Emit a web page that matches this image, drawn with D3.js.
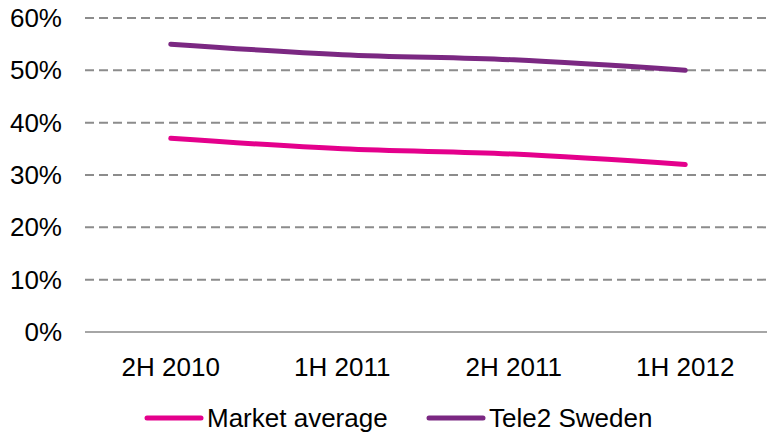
<!DOCTYPE html>
<html>
<head>
<meta charset="utf-8">
<script src="https://d3js.org/d3.v7.min.js"></script>
<style>
  body { margin: 0; background: #fff; }
  svg text { font-family: "Liberation Sans", Arial, sans-serif; fill: #000; }
  .grid line { stroke: #8c8c8c; stroke-width: 2; stroke-dasharray: 9,5; }
  .baseline { stroke: #a6a6a6; stroke-width: 2; }
</style>
</head>
<body>
<div id="chart"></div>
<script>
// periods on the x axis
var categories = ["2H 2010", "1H 2011", "2H 2011", "1H 2012"];

// share values, percent
var marketAverage = [37, 35, 34, 32];
var tele2Sweden = [55, 53, 52, 50];

var yTicks = [0, 10, 20, 30, 40, 50, 60];

var seriesNames = ["Market average", "Tele2 Sweden"];
var seriesColors = ["#e4008c", "#7b2882"];

/////////////////////////////////////////////////////////////////////

var width = 767, height = 433;
var svg = d3.select("#chart").append("svg")
    .attr("width", width)
    .attr("height", height);

var x = d3.scaleBand()
    .domain(categories)
    .range([85, 771]);

var y = d3.scaleLinear()
    .domain([0, 60])
    .range([332, 18]);

// dashed gridlines (not at zero)
var grid = svg.append("g").attr("class", "grid");
grid.selectAll("line")
    .data(yTicks.filter(function(d) { return d > 0; }))
    .enter().append("line")
    .attr("x1", 85)
    .attr("x2", width)
    .attr("y1", function(d) { return y(d); })
    .attr("y2", function(d) { return y(d); });

svg.append("line")
    .attr("class", "baseline")
    .attr("x1", 85)
    .attr("x2", width)
    .attr("y1", y(0))
    .attr("y2", y(0));

// y labels
svg.append("g").selectAll("text")
    .data(yTicks)
    .enter().append("text")
    .attr("x", 62)
    .attr("y", function(d) { return y(d) + 9; })
    .attr("text-anchor", "end")
    .style("font-size", "26px")
    .text(function(d) { return d + "%"; });

// x labels
svg.append("g").selectAll("text")
    .data(categories)
    .enter().append("text")
    .attr("x", function(d) { return x(d) + x.bandwidth() / 2; })
    .attr("y", 376)
    .attr("text-anchor", "middle")
    .style("font-size", "26px")
    .text(function(d) { return d; });

// lines (smoothed, like the source)
var line = d3.line()
    .x(function(d, i) { return x(categories[i]) + x.bandwidth() / 2; })
    .y(function(d) { return y(d); })
    .curve(d3.curveCatmullRom.alpha(0.5));

var seriesData = [marketAverage, tele2Sweden];

svg.append("g").selectAll("path")
    .data(seriesData)
    .enter().append("path")
    .attr("d", line)
    .attr("fill", "none")
    .attr("stroke", function(d, i) { return seriesColors[i]; })
    .attr("stroke-width", 5)
    .attr("stroke-linecap", "round")
    .attr("stroke-linejoin", "round");

// legend
var legendX = [147, 429];
var legend = svg.append("g").selectAll("g")
    .data(seriesNames)
    .enter().append("g")
    .attr("transform", function(d, i) { return "translate(" + legendX[i] + ",418)"; });

legend.append("line")
    .attr("x1", 0)
    .attr("x2", 54)
    .attr("stroke", function(d, i) { return seriesColors[i]; })
    .attr("stroke-width", 5)
    .attr("stroke-linecap", "round");

legend.append("text")
    .attr("x", 60)
    .attr("y", 9)
    .style("font-size", "26px")
    .text(function(d) { return d; });
</script>
</body>
</html>
